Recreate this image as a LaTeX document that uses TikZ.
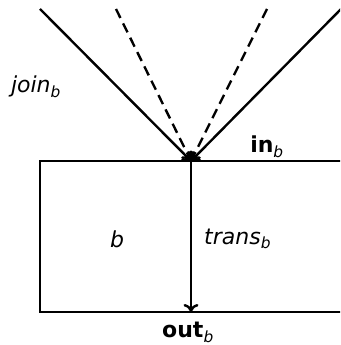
\documentclass[tikz,border=0pt]{standalone}
\usepackage{fontspec}
\setsansfont{DejaVu Sans}
\usetikzlibrary{arrows.meta}
\begin{document}
\begin{tikzpicture}[x=1pt,y=1pt,
  lbl/.style={font=\fontsize{22}{26}\selectfont\sffamily, inner sep=0pt},
  flow/.style={line width=2.4pt, -{To[length=8pt,width=15pt]}},
  dflow/.style={flow, dash pattern=on 10pt off 6pt}]
\useasboundingbox (0,0) rectangle (340,345);
\clip (0,0) rectangle (340,345);
\coordinate (J) at (191,184);
\coordinate (O) at (191,33);
\coordinate (L) at (40,336);
\coordinate (R) at (342,337);
\coordinate (DL) at (116,336);
\coordinate (DR) at (267,336);
\draw[line width=2.4pt] (40,184) rectangle (360,33);
\draw[flow] (L) -- (J);
\draw[flow] (R) -- (J);
\draw[dflow] (DL) -- (J);
\draw[dflow] (DR) -- (J);
\draw[flow] (J) -- (O);
\node[lbl] (join) at (36,258) {\itshape join\textsubscript{b}};
\node[lbl, anchor=base] (in) at (267,192) {\bfseries in\textsubscript{\mdseries\itshape b}};
\node[lbl] (b) at (117,106) {\itshape b};
\node[lbl, anchor=west] (trans) at (204,106) {\itshape trans\textsubscript{b}};
\node[lbl, anchor=base] (out) at (188,7) {\bfseries out\textsubscript{\mdseries\itshape b}};
\end{tikzpicture}
\end{document}
